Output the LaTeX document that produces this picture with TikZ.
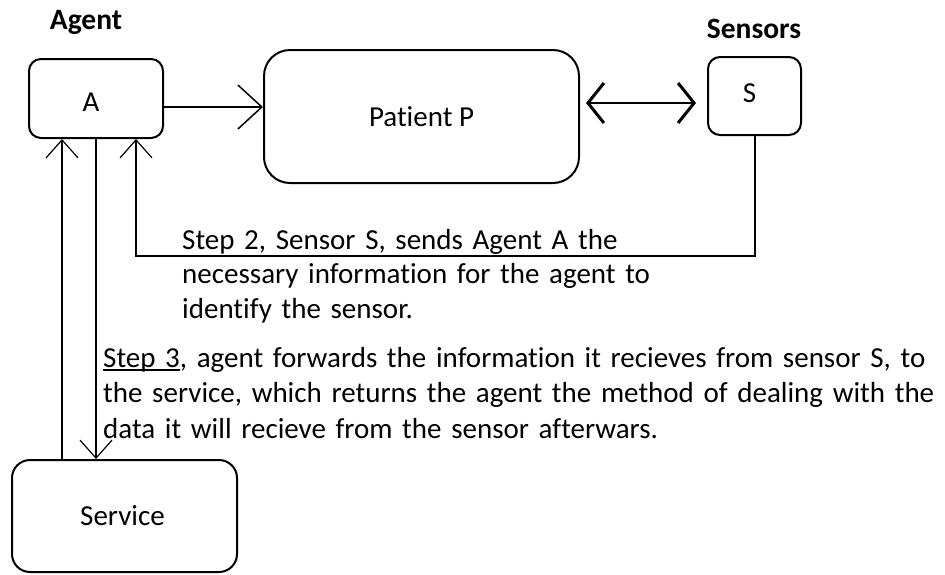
\documentclass[tikz,border=0pt]{standalone}
\usepackage{fontspec}
\setmainfont{Carlito}[Ligatures=NoCommon]
\usetikzlibrary{arrows.meta,calc}
\newcommand\stepul[1]{\setbox0\hbox{#1}\rlap{\rule[-3.5pt]{\wd0}{1.6pt}}\box0}
\begin{document}
\begin{tikzpicture}[x=1pt,y=-1pt,
  box/.style={draw,line width=2pt,inner sep=0pt,font=\fontsize{29}{35}\selectfont},
  head/.style={font=\bfseries\fontsize{29.5}{35}\selectfont,inner sep=0pt},
  txt/.style={font=\fontsize{29}{#1}\selectfont,inner sep=0pt,align=left,anchor=base west},
  conn/.style={line width=2pt},
  bigtip/.style={-{Straight Barb[length=24pt,width=44pt,line width=1.5pt]}},
  smalltip/.style={-{Straight Barb[length=18pt,width=32pt,line width=1.2pt]}},
  dbltip/.style={{Straight Barb[length=16pt,width=40pt,line width=3pt]}-{Straight Barb[length=16pt,width=40pt,line width=3pt]}}]
\useasboundingbox (0,0) rectangle (945,574);
% boxes
\node[box,rounded corners=12pt,minimum width=134pt,minimum height=79pt] (A) at (96,98.5) {\hspace*{-10pt}\raisebox{-3.5pt}[\height][\depth]{A}};
\node[box,rounded corners=26pt,minimum width=315pt,minimum height=133pt] (P) at (421.5,116.5) {Patient P};
\node[box,rounded corners=12pt,minimum width=93pt,minimum height=78pt] (S) at (754.5,96) {\hspace*{-10pt}\raisebox{3pt}[\height][\depth]{S}};
\node[box,rounded corners=18pt,minimum width=225pt,minimum height=112pt] (V) at (124.5,516) {\hspace*{-4pt}Service};
% headings
\node[head] (agentlbl) at (86,22) {Agent};
\node[head] (sensorlbl) at (754,29) {Sensors};
% texts
\node[txt=34.5,text width=600pt] (t2) at (182,249) {Step 2, Sensor S, sends Agent A the\\necessary information for the agent to\\identify the sensor.};
\node[txt=35.5,text width=840pt] (t3) at (103,367) {\stepul{Step 3}, agent forwards the information it recieves from sensor S, to\\the service, which returns the agent the method of dealing with the\\data it will recieve from the sensor afterwars.};
% connectors
\draw[conn,bigtip] ([yshift=-8.5pt]A.east) -- ([yshift=-8.5pt]A.east -| P.west);
\coordinate (d1) at ($(P.east |- S.center)+(6,7)$);
\coordinate (d2) at ($(S.west)+(-11,7)$);
\draw[conn,dbltip] (d1) -- (d2);
\coordinate (c2) at (136,256);
\draw[conn,smalltip] (S.south) |- (c2) -- (c2 |- A.south);
\coordinate (c3) at (62,300);
\draw[conn,smalltip] (c3 |- V.north) -- (c3 |- A.south);
\draw[conn,smalltip] (A.south) -- (A.south |- V.north);
\end{tikzpicture}
\end{document}
